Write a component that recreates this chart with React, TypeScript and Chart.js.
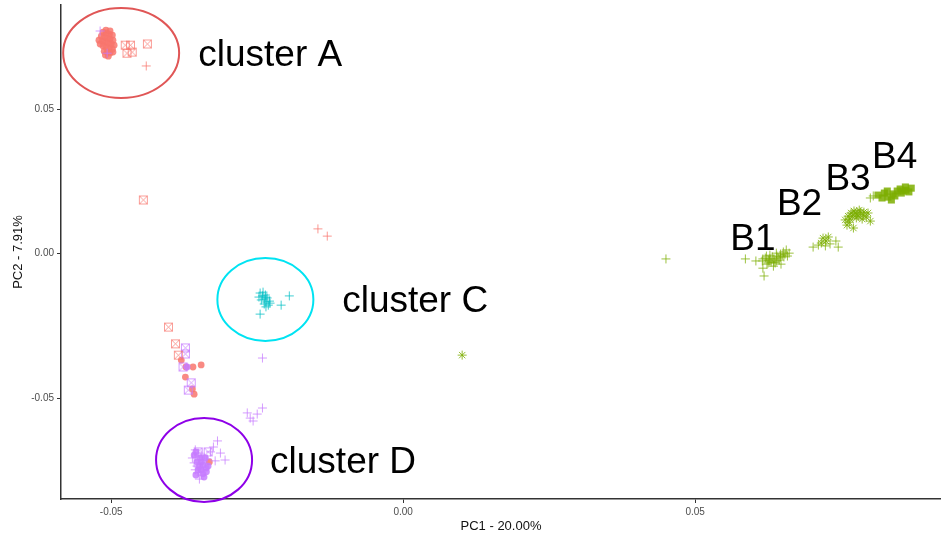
import React, { useEffect, useRef } from "react";
import { Chart, registerables } from "chart.js";

Chart.register(...registerables);

type P = [number, number];

// ---------- data (PC1, PC2) ----------
const redCircles: P[] = [
  [-0.0514, 0.0767], [-0.0509, 0.0764], [-0.0503, 0.076], [-0.0498, 0.0757], [-0.0512, 0.075],
  [-0.0507, 0.0746], [-0.0502, 0.0743], [-0.0497, 0.0739], [-0.0515, 0.0736], [-0.051, 0.0733],
  [-0.0505, 0.0729], [-0.05, 0.0726], [-0.0495, 0.0722], [-0.0514, 0.0719], [-0.0509, 0.0715],
  [-0.0503, 0.0712], [-0.0498, 0.0708], [-0.0512, 0.0701], [-0.0507, 0.0698], [-0.0502, 0.0695],
  [-0.051, 0.0688], [-0.0505, 0.0684], [-0.0517, 0.0753], [-0.0519, 0.0726], [-0.0497, 0.0698],
  [-0.0509, 0.0774], [-0.0502, 0.0771], [-0.0521, 0.0739],
  [-0.038, -0.0368], [-0.0372, -0.0392], [-0.036, -0.0392], [-0.0346, -0.0385], [-0.0373, -0.0427],
  [-0.0361, -0.0468], [-0.0358, -0.0486],
  [-0.0332, -0.0721],
];
const redSquares: P[] = [
  [-0.0476, 0.0722], [-0.0467, 0.0722], [-0.0473, 0.0694], [-0.0464, 0.0698], [-0.0438, 0.0726],
  [-0.0445, 0.0186], [-0.0402, -0.0254], [-0.039, -0.0312], [-0.0385, -0.0351],
];
const redPlus: P[] = [
  [-0.044, 0.065], [-0.0146, 0.0086], [-0.013, 0.0061],
];
const purplePlus: P[] = [
  [-0.0519, 0.0771], [-0.0507, 0.0694], [-0.0241, -0.0361],
  [-0.0262, -0.0569], [-0.0267, -0.0551], [-0.0257, -0.0579], [-0.0241, -0.0534], [-0.025, -0.0555],
  [-0.0318, -0.0648], [-0.0325, -0.0669], [-0.0313, -0.069], [-0.0305, -0.0714], [-0.0322, -0.0717],
  [-0.033, -0.0686],
  [-0.0356, -0.0679], [-0.0351, -0.069], [-0.0346, -0.0697], [-0.0341, -0.0704], [-0.0336, -0.071],
  [-0.0355, -0.0704], [-0.0349, -0.0714], [-0.0344, -0.0721], [-0.0339, -0.0728], [-0.0358, -0.0724],
  [-0.0353, -0.0735], [-0.0348, -0.0742], [-0.0343, -0.0748], [-0.0356, -0.0748], [-0.0351, -0.0759],
  [-0.0346, -0.0766], [-0.0349, -0.078], [-0.0361, -0.0707],
];
const purpleCircles: P[] = [
  [-0.0334, -0.0735], [-0.0337, -0.0755], [-0.0341, -0.0773], [-0.0348, -0.0707], [-0.0343, -0.0731],
  [-0.0353, -0.0721], [-0.0346, -0.0748], [-0.0355, -0.0686], [-0.037, -0.0392],
  [-0.0358, -0.0697], [-0.0349, -0.0735], [-0.0343, -0.0762], [-0.0337, -0.0742], [-0.0355, -0.0766],
  [-0.0346, -0.0721], [-0.0339, -0.0707], [-0.0351, -0.0748],
];
const purpleSquares: P[] = [
  [-0.0373, -0.0326], [-0.0373, -0.0347], [-0.0377, -0.0392], [-0.0363, -0.0447], [-0.0368, -0.0472],
  [-0.0351, -0.0686], [-0.0334, -0.0686],
];
const cyanPlus: P[] = [
  [-0.0245, -0.0136], [-0.0241, -0.0146], [-0.0238, -0.0157], [-0.0235, -0.0167], [-0.0231, -0.0178],
  [-0.024, -0.0133], [-0.0236, -0.0143], [-0.0233, -0.0153], [-0.0229, -0.0164], [-0.0238, -0.0174],
  [-0.0243, -0.016], [-0.0235, -0.015], [-0.0228, -0.0171], [-0.0195, -0.0146], [-0.0209, -0.0178],
  [-0.0245, -0.0209], [-0.0235, -0.0184], [-0.0247, -0.015],
];
const greenPlus: P[] = [
  [0.045, -0.0018], [0.0586, -0.0018], [0.0604, -0.0025], [0.0618, -0.0077], [0.0616, -0.005],
  [0.062, -0.0015], [0.0625, -0.0022], [0.063, -0.0029], [0.0635, -0.0018], [0.064, -0.0008],
  [0.0646, -0.0001], [0.0651, 0.0006], [0.0628, -0.0005], [0.0637, -0.0032], [0.0644, -0.0022],
  [0.0652, -0.0011], [0.0623, -0.0036], [0.0634, -0.0043], [0.0656, 0.0013], [0.0661, 0.0002],
  [0.0615, -0.0025], [0.0647, -0.0036], [0.0639, 0.0002], [0.0632, -0.0011], [0.0627, -0.0025],
  [0.0622, -0.0008], [0.0628, -0.0018], [0.0635, -0.0029], [0.0642, -0.0015], [0.0649, -0.0005],
  [0.0654, -0.0001], [0.0658, -0.0008], [0.0616, -0.0018], [0.0625, -0.0032], [0.0639, -0.0025],
  [0.0646, -0.0011],
  [0.0702, 0.0023], [0.0711, 0.003], [0.0731, 0.0034], [0.0741, 0.0044], [0.0745, 0.0023], [0.0723, 0.0027],
  [0.08, 0.0193], [0.0805, 0.02],
];
const greenStars: P[] = [
  [0.0101, -0.0351],
  [0.0719, 0.0054], [0.0724, 0.0044], [0.0728, 0.0058], [0.0716, 0.0037],
  [0.0757, 0.0117], [0.0762, 0.013], [0.0767, 0.0141], [0.0772, 0.0148], [0.0777, 0.0137],
  [0.0783, 0.0144], [0.0788, 0.0134], [0.0793, 0.0127], [0.0765, 0.012], [0.0776, 0.0124],
  [0.0786, 0.012], [0.0796, 0.0141], [0.08, 0.0113], [0.076, 0.0099], [0.0771, 0.0089], [0.0781, 0.0151],
  [0.0769, 0.013], [0.0779, 0.013], [0.0774, 0.0141], [0.0764, 0.0109], [0.0789, 0.0144],
];
const greenSquares: P[] = [
  [0.0813, 0.0203], [0.0824, 0.021], [0.083, 0.0196], [0.0836, 0.0186], [0.0839, 0.0207],
  [0.0846, 0.0217], [0.0851, 0.0224], [0.0856, 0.0217], [0.0861, 0.022], [0.0866, 0.0214],
  [0.087, 0.0227], [0.0853, 0.021], [0.0842, 0.02], [0.086, 0.0231], [0.082, 0.0193], [0.0829, 0.0217],
];

const xTicks = [-0.05, 0, 0.05];
const yTicks = [-0.05, 0, 0.05];
const xTitle = "PC1 - 20.00%";
const yTitle = "PC2 - 7.91%";

const clusterLabels = [
  { text: "cluster A", x: -0.0351, y: 0.065 },
  { text: "cluster C", x: -0.01045, y: -0.0202 },
  { text: "cluster D", x: -0.0228, y: -0.076 },
  { text: "B1", x: 0.056, y: 0.0013 },
  { text: "B2", x: 0.064, y: 0.0134 },
  { text: "B3", x: 0.0723, y: 0.022 },
  { text: "B4", x: 0.0803, y: 0.0297 },
];
const clusterRings = [
  { cx: -0.0483, cy: 0.0695, rx: 0.00993, ry: 0.01557, color: "#E05656" },
  { cx: -0.0236, cy: -0.01585, rx: 0.00822, ry: 0.01436, color: "#00E3F2" },
  { cx: -0.0341, cy: -0.07138, rx: 0.00822, ry: 0.01453, color: "#8E00E8" },
];

const RED = "248,118,109";
const GREEN = "124,174,0";
const CYAN = "0,191,196";
const PURPLE = "199,124,255";
const FONT = "'Liberation Sans', Arial, Helvetica, sans-serif";

function squareX(rgb: string, alpha: number): HTMLCanvasElement {
  const c = document.createElement("canvas");
  c.width = 11;
  c.height = 11;
  const g = c.getContext("2d")!;
  g.strokeStyle = `rgba(${rgb},${alpha})`;
  g.lineWidth = 1;
  g.strokeRect(1.5, 1.5, 8, 8);
  g.beginPath();
  g.moveTo(1.5, 1.5);
  g.lineTo(9.5, 9.5);
  g.moveTo(9.5, 1.5);
  g.lineTo(1.5, 9.5);
  g.stroke();
  return c;
}

const pts = (a: P[]) => a.map(([x, y]) => ({ x, y }));

const annotationPlugin = {
  id: "clusterAnnotations",
  afterDatasetsDraw(chart: any) {
    const { ctx, scales } = chart;
    const xs = scales.x;
    const ys = scales.y;
    ctx.save();
    for (const r of clusterRings) {
      const px = xs.getPixelForValue(r.cx);
      const py = ys.getPixelForValue(r.cy);
      const rx = Math.abs(xs.getPixelForValue(r.cx + r.rx) - px);
      const ry = Math.abs(ys.getPixelForValue(r.cy + r.ry) - py);
      ctx.beginPath();
      ctx.ellipse(px, py, rx, ry, 0, 0, Math.PI * 2);
      ctx.strokeStyle = r.color;
      ctx.lineWidth = 2;
      ctx.stroke();
    }
    ctx.fillStyle = "#000";
    ctx.font = `37px ${FONT}`;
    ctx.textAlign = "left";
    ctx.textBaseline = "alphabetic";
    for (const l of clusterLabels) {
      ctx.fillText(l.text, xs.getPixelForValue(l.x), ys.getPixelForValue(l.y));
    }
    ctx.restore();
  },
};

export default function App() {
  const ref = useRef<HTMLCanvasElement | null>(null);
  useEffect(() => {
    if (!ref.current) return;
    const redSq = squareX(RED, 0.7);
    const purpleSq = squareX(PURPLE, 0.75);
    const plus = (rgb: string, label: string, data: P[]) => ({
      label,
      data: pts(data),
      pointStyle: "cross",
      pointRadius: 4.5,
      borderWidth: 1,
      borderColor: `rgba(${rgb},0.75)`,
      backgroundColor: `rgba(${rgb},0.75)`,
    });
    const chart = new Chart(ref.current, {
      type: "scatter",
      data: {
        datasets: [
          { label: "redSquares", data: pts(redSquares), pointStyle: redSq as any, pointRadius: 5 },
          { label: "purpleSquares", data: pts(purpleSquares), pointStyle: purpleSq as any, pointRadius: 5 },
          plus(RED, "redPlus", redPlus),
          plus(PURPLE, "purplePlus", purplePlus),
          {
            label: "purpleCircles", data: pts(purpleCircles), pointStyle: "circle", pointRadius: 3.4,
            borderWidth: 0, backgroundColor: `rgba(${PURPLE},0.85)`,
          },
          {
            label: "redCircles", data: pts(redCircles), pointStyle: "circle", pointRadius: 3.4,
            borderWidth: 0, backgroundColor: `rgba(${RED},0.85)`,
          },
          plus(CYAN, "cyanPlus", cyanPlus),
          plus(GREEN, "greenPlus", greenPlus),
          {
            label: "greenStars", data: pts(greenStars), pointStyle: "star", pointRadius: 4.5,
            borderWidth: 1, borderColor: `rgba(${GREEN},0.8)`, backgroundColor: `rgba(${GREEN},0.8)`,
          },
          {
            label: "greenSquares", data: pts(greenSquares), pointStyle: "rect", pointRadius: 5,
            borderWidth: 0, backgroundColor: `rgba(${GREEN},0.85)`,
          },
        ] as any,
      },
      options: {
        animation: false,
        responsive: false,
        events: [],
        layout: { autoPadding: false, padding: { top: 5, right: 0, left: 0, bottom: 0 } },
        plugins: { legend: { display: false }, tooltip: { enabled: false } },
        scales: {
          x: {
            type: "linear",
            min: -0.0586,
            max: 0.0921,
            afterBuildTicks: (s: any) => {
              s.ticks = xTicks.map((v) => ({ value: v }));
            },
            afterFit: (s: any) => {
              s.height = 36;
              s.paddingLeft = 0;
              s.paddingRight = 0;
              s.paddingTop = 0;
              s.paddingBottom = 0;
            },
            grid: { drawOnChartArea: false, drawTicks: true, tickLength: 4, tickColor: "#333", tickWidth: 1 },
            border: { display: true, color: "#333", width: 1.5 },
            ticks: {
              color: "#4D4D4D",
              font: { family: FONT, size: 10 },
              padding: 3,
              maxRotation: 0,
              autoSkip: false,
              callback: (v: any) => Number(v).toFixed(2),
            },
            title: {
              display: true,
              text: xTitle,
              color: "#111",
              font: { family: FONT, size: 13 },
              padding: { top: 0, bottom: 1 },
            },
          },
          y: {
            type: "linear",
            min: -0.0849,
            max: 0.0861,
            afterBuildTicks: (s: any) => {
              s.ticks = yTicks.map((v) => ({ value: v }));
            },
            afterFit: (s: any) => {
              s.width = 61;
              s.paddingLeft = 0;
              s.paddingRight = 0;
              s.paddingTop = 0;
              s.paddingBottom = 0;
            },
            grid: { drawOnChartArea: false, drawTicks: true, tickLength: 4, tickColor: "#333", tickWidth: 1 },
            border: { display: true, color: "#333", width: 1.5 },
            ticks: {
              color: "#4D4D4D",
              font: { family: FONT, size: 10 },
              padding: 3,
              autoSkip: false,
              callback: (v: any) => Number(v).toFixed(2),
            },
            title: {
              display: true,
              text: yTitle,
              color: "#111",
              font: { family: FONT, size: 13 },
              padding: { top: 11, bottom: 0 },
            },
          },
        },
      } as any,
      plugins: [annotationPlugin],
    });
    return () => chart.destroy();
  }, []);

  return (
    <div style={{ position: "fixed", left: 0, top: 0, width: 941, height: 535, background: "#fff" }}>
      <canvas ref={ref} width={941} height={535} style={{ display: "block" }} />
    </div>
  );
}
